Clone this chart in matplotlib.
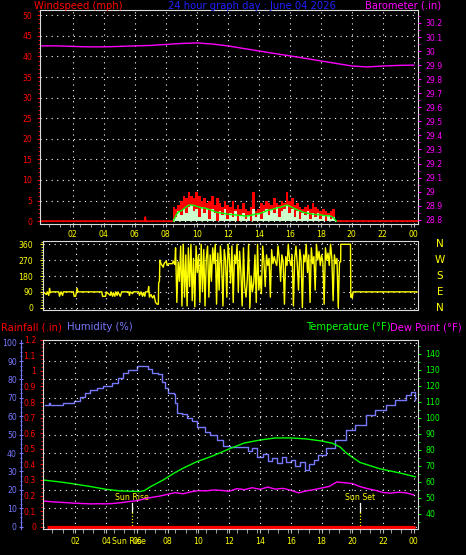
import numpy as np
import matplotlib
matplotlib.use('Agg')
import matplotlib.pyplot as plt
from matplotlib.ticker import MultipleLocator, FixedLocator, FuncFormatter
from matplotlib.transforms import blended_transform_factory

plt.rcParams['font.family'] = ['DejaVu Sans']

# ---------------------------------------------------------------- data
title = '24 hour graph day : June 04 2026'
hour_ticks = [2, 4, 6, 8, 10, 12, 14, 16, 18, 20, 22, 24]
hour_labels = ['02', '04', '06', '08', '10', '12', '14', '16', '18', '20', '22', '00']

# wind (mph), 10-minute values starting 08:30
wind_start = 8.5
wind_gust = [3.5, 3, 4, 5, 6, 5.5, 7, 6, 5.5, 7, 6, 5, 5.5, 4.5, 5, 6, 4, 5.5, 4.5, 3.5,
             5, 4, 3.5, 5, 3, 4, 3, 4.5, 3, 2.5, 3.5, 7, 2.5, 3, 4.5, 4, 5, 4.5, 4, 5.5,
             4.5, 4, 5, 4.5, 7, 5, 5.5, 4, 4.5, 3.5, 3, 3.5, 4, 3, 4.5, 3.5, 3, 2.5, 3, 2.5,
             2, 2.5, 3, 0]
wind_speed = [0.5, 1, 2.5, 1.5, 3, 2, 3.5, 4, 2.5, 3, 1, 3.5, 2, 3, 0.5, 3, 2, 0, 2.5, 1.5,
              3, 0.5, 2, 1, 2.5, 0, 1.5, 2, 0.5, 1.5, 0, 3, 1, 2, 0.5, 2.5, 3, 1.5, 3, 2,
              3.5, 1, 2.5, 3, 4, 2, 3, 1, 2.5, 0.5, 2, 1.5, 2.5, 0.5, 2, 1, 2, 0.5, 1.5, 0,
              1.5, 0.5, 1, 0]
wind_avg = [0, 1.5, 2.3, 2.5, 3, 3.5, 3.9, 3.9, 3.8, 3.6, 3.4, 3.2, 3.2, 3, 2.8, 2.6, 2.3, 2.1, 2, 1.9,
            1.8, 1.7, 1.6, 1.6, 1.5, 1.4, 1.4, 1.3, 1.2, 1.3, 1.4, 1.6, 1.7, 1.8, 2, 2.2, 2.5, 2.7, 2.8, 3,
            3.2, 3.3, 3.5, 3.7, 3.9, 3.6, 3.3, 3, 2.7, 2.5, 2.2, 2, 1.9, 1.8, 1.7, 1.6, 1.6, 1.5, 1.4, 1.3,
            1.3, 1.2, 0.8, 0]
calm_gust_t = [-0.1, 6.66, 6.68, 6.72, 8.49]
calm_gust_v = [0, 0, 1.0, 0, 0]
late_gust_t = [19.05, 24.24]
late_gust_v = [0, 0]

# barometer (in), hourly
baro_t = list(range(25))
baro_v = [30.037, 30.037, 30.033, 30.030, 30.030, 30.033, 30.037, 30.040, 30.047, 30.054,
          30.058, 30.050, 30.037, 30.019, 30.001, 29.983, 29.966, 29.948, 29.930, 29.912,
          29.894, 29.887, 29.894, 29.898, 29.900]

# wind direction (deg)
dir_early_t = [-0.05, 0.1, 0.15, 0.25, 0.3, 0.35, 0.45,
               0.9, 0.95, 1.05, 1.15, 1.2,
               1.85, 1.9, 2.0, 2.05, 2.1, 2.15,
               3.7, 3.75, 3.95, 4.0,
               4.25, 4.3, 4.4, 4.45, 4.55, 4.6, 4.7, 4.75, 4.9, 5.0,
               5.45, 5.5, 5.55, 5.7, 5.75,
               6.1, 6.15, 6.25, 6.35, 6.4, 6.5, 6.55, 6.7, 6.75,
               6.8, 6.9, 7.0, 7.1, 7.2, 7.3, 7.38, 7.4, 7.45, 7.48,
               7.55, 7.7, 7.75, 7.9, 7.95, 8.05, 8.3, 8.35, 8.45]
dir_early_v = [85, 75, 90, 70, 110, 85, 90,
               90, 65, 90, 70, 90,
               90, 65, 65, 90, 110, 90,
               90, 65, 65, 90,
               70, 90, 65, 85, 65, 90, 70, 90, 65, 90,
               90, 70, 90, 80, 90,
               90, 70, 90, 65, 85, 65, 90, 90, 120,
               60, 75, 55, 70, 30, 20, 20, 140, 150, 270,
               250, 230, 250, 265, 240, 250, 250, 265, 245]
dir_busy_start = 8.5   # 5-minute values
dir_busy = [340, 30, 260, 150, 350, 10,
            360, 60, 300, 10, 340, 120, 360, 40, 280, 5, 350, 200,
            300, 30, 360, 90, 330, 10, 280, 350, 60, 300, 150, 340,
            250, 360, 20, 310, 100, 350, 240, 10, 330, 270, 60, 360,
            280, 140, 350, 30, 300, 250, 360, 90, 320, 200, 10, 340,
            120, 60, 160, 360, 0, 180, 90, 140, 300, 30, 360, 100,
            180, 80, 350, 260, 120, 300, 240, 280, 60, 330, 250, 290,
            260, 240, 350, 280, 150, 300, 260, 20, 290, 240, 360, 270,
            240, 300, 10, 280, 350, 250, 100, 330, 270, 0, 300, 260,
            360, 200, 300, 30, 340, 250, 290, 100, 360, 270, 320, 240,
            300, 260, 20, 340, 270, 310, 240, 360, 280, 40, 300, 250,
            280, 0, 260]
dir_late_t = [19.24, 19.25, 19.88, 19.9, 19.95, 20.0, 20.05, 24.2]
dir_late_v = [260, 360, 360, 60, 75, 55, 90, 90]
compass_labels = ['N', 'W', 'S', 'E', 'N']
compass_deg = [360, 270, 180, 90, 0]

# humidity (%)
hum_t = [0.0, 0.3, 0.35, 0.5, 1.2, 1.9, 2.3, 2.6, 2.95, 3.4, 3.8, 4.4, 4.8, 5.1, 5.45, 6.0,
         6.3, 6.75, 7.0, 7.4, 7.6, 7.8, 8.0, 8.4, 8.5, 8.6, 8.9, 9.25, 9.55, 9.9, 10.4, 10.77,
         11.2, 11.6, 12.07, 12.7, 13.2, 13.5, 13.8, 14.2, 14.5, 14.8, 15.1, 15.4, 15.7, 16.0,
         16.3, 16.6, 16.9, 17.2, 17.5, 17.8, 18.3, 18.9, 19.6, 20.2, 20.9, 21.5, 22.2, 22.8,
         23.5, 23.8, 24.1]
hum_v = [66.0, 67.0, 66.2, 66.2, 67.2, 68.4, 70.4, 72.6, 74.0, 75.3, 76.5, 78.3, 81.0, 83.7,
         85.1, 87.3, 87.3, 85.9, 83.7, 82.8, 78.8, 75.3, 72.6, 72.2, 67.2, 61.7, 61.4, 59.0,
         57.2, 54.1, 51.7, 49.9, 47.2, 43.9, 43.5, 43.3, 41.0, 43.0, 38.0, 39.5, 35.5, 37.5,
         34.5, 38.0, 35.0, 36.5, 33.0, 35.0, 31.0, 34.0, 36.0, 39.0, 42.8, 47.0, 52.5, 55.3,
         60.7, 63.4, 66.1, 68.9, 71.6, 73.2, 68.9]

# temperature (F)
temp_t = [0.0, 1.0, 1.9, 3.0, 4.0, 4.9, 6.2, 6.5, 6.9, 7.7, 8.4, 9.0, 9.9, 10.8, 11.6, 12.1,
          13.0, 14.0, 15.0, 16.0, 17.0, 18.0, 18.7, 19.2, 19.6, 20.5, 21.8, 23.1, 24.1]
temp_v = [60.9, 59.8, 58.6, 56.9, 55.2, 54.2, 53.8, 54.5, 56.9, 61.0, 65.2, 68.4, 72.5, 75.6,
          78.8, 80.9, 84.2, 86.0, 87.3, 87.3, 86.7, 85.4, 84.0, 81.7, 78.0, 72.0, 68.0, 65.4, 63.0]

# dew point (F), half-hourly
dew_t = [i * 0.5 for i in range(49)]
dew_v = [47.8, 47.4, 47.1, 46.8, 46.5, 46.3, 46.1, 46.2, 46.1, 46.4, 46.9, 47.6, 48.1, 49.3,
         50.2, 51.0, 52.1, 53.1, 52.4, 53.6, 54.4, 54.2, 54.8, 54.5, 54.0, 55.6, 55.0, 56.2,
         55.2, 56.6, 55.3, 55.8, 54.6, 53.0, 54.2, 55.0, 56.0, 57.0, 59.8, 59.3, 58.8, 56.9,
         55.6, 54.6, 53.2, 52.8, 53.4, 53.0, 51.7]

# rainfall (in)
rain_t = [0.15, 24.05]
rain_v = [0.0, 0.0]

sunrise_h = 5.67
sunset_h = 20.49

# ---------------------------------------------------------------- styling
W, H = 466, 555
BORDER = '#dcdcdc'
HUMC = '#7878ff'
YEL = '#ffff00'
GRID = dict(color='white', linestyle=(0, (1, 4)), linewidth=0.8)
TS = 5.6


def rect(l, t, r, b):
    return [l / W, (H - b) / H, (r - l) / W, (b - t) / H]


def fmt(v, p):
    s = f'{v:.1f}'
    return s[:-2] if s.endswith('.0') else s


fig = plt.figure(figsize=(W / 100, H / 100), dpi=100, facecolor='black')
minor_x = FixedLocator(list(np.arange(0.5, 24.3, 2 / 3)))

# ---------------- top panel: wind + barometer
ax_w = fig.add_axes(rect(40, 10.3, 417.5, 224))
ax_w.set_facecolor('black')
ax_w.set_xlim(-0.11, 24.24)
ax_w.set_ylim(-0.7, 51.2)
wt = wind_start + np.arange(len(wind_gust)) / 6
ax_w.fill_between(wt, 0, wind_gust, step='mid', color='#ff0000', lw=0, zorder=2)
ax_w.fill_between(wt, 0, wind_speed, step='mid', color='#ccffcc', lw=0, zorder=3)
ax_w.plot(wt, wind_avg, color='#00ff00', lw=1.0, zorder=4)
ax_w.plot(calm_gust_t, calm_gust_v, color='#ff0000', lw=1.2, zorder=2)
ax_w.plot(late_gust_t, late_gust_v, color='#ff0000', lw=1.2, zorder=2)
ax_w.set_yticks(range(0, 51, 5))
ax_w.yaxis.set_minor_locator(MultipleLocator(1))
ax_w.tick_params(axis='y', which='major', colors='red', labelsize=TS, length=2.5, pad=3)
ax_w.tick_params(axis='y', which='minor', colors='red', length=1.5)
ax_w.set_xticks(hour_ticks)
ax_w.set_xticklabels(hour_labels)
ax_w.xaxis.set_minor_locator(minor_x)
ax_w.tick_params(axis='x', which='both', colors='#bbbbbb', labelcolor=YEL, labelsize=TS,
                 length=2, pad=2)
ax_w.grid(True, which='major', **GRID)
for s in ax_w.spines.values():
    s.set_color(BORDER)

ax_b = ax_w.twinx()
ax_b.set_ylim(28.77, 30.29)
ax_b.plot(baro_t, baro_v, color='#ff00ff', lw=1.0)
ax_b.set_yticks(np.round(np.arange(28.8, 30.25, 0.1), 1))
ax_b.yaxis.set_major_formatter(FuncFormatter(fmt))
ax_b.yaxis.set_minor_locator(MultipleLocator(0.05))
ax_b.tick_params(axis='y', which='major', colors='#ff00ff', labelsize=TS, length=2.2, pad=3.5)
ax_b.tick_params(axis='y', which='minor', colors='#ff00ff', length=1.5)
for s in ax_b.spines.values():
    s.set_visible(False)

# ---------------- middle panel: wind direction
ax_d = fig.add_axes(rect(43.3, 241.3, 417.5, 310))
ax_d.set_facecolor('black')
ax_d.set_xlim(-0.105, 24.24)
ax_d.set_ylim(-13, 377)
bt = dir_busy_start + np.arange(len(dir_busy)) / 12
d_t = list(dir_early_t) + list(bt) + list(dir_late_t)
d_v = list(dir_early_v) + list(dir_busy) + list(dir_late_v)
ax_d.plot(d_t, d_v, color=YEL, lw=1.0)
ax_d.set_yticks([0, 90, 180, 270, 360])
ax_d.yaxis.set_minor_locator(MultipleLocator(15))
ax_d.tick_params(axis='y', which='major', colors=YEL, labelsize=TS, length=2.5, pad=5)
ax_d.tick_params(axis='y', which='minor', colors=YEL, length=1.5)
ax_d.set_xticks(hour_ticks)
ax_d.tick_params(axis='x', labelbottom=False, length=0)
ax_d.grid(True, which='major', **GRID)
for s in ax_d.spines.values():
    s.set_color(BORDER)
ctr = blended_transform_factory(fig.transFigure, ax_d.transData)
for lab, deg in zip(compass_labels, compass_deg):
    ax_d.text(440 / W, deg, lab, transform=ctr, color=YEL, fontsize=7.5,
              ha='center', va='center', clip_on=False)

# ---------------- bottom panel: rain, humidity, temperature, dew point
ax_r = fig.add_axes(rect(43, 339.7, 417.5, 529))
ax_h = ax_r.twinx()
ax_t = ax_r.twinx()
ax_h.set_zorder(1)
ax_t.set_zorder(2)
ax_r.set_zorder(3)
for a in (ax_r, ax_h, ax_t):
    a.patch.set_visible(False)
    a.set_xlim(-0.105, 24.24)

ax_r.set_ylim(-0.015, 1.2)
ax_r.plot(rain_t, rain_v, color='#ff0000', lw=2.3, solid_capstyle='butt')
ax_r.set_yticks(np.round(np.arange(0, 1.25, 0.1), 1))
ax_r.yaxis.set_major_formatter(FuncFormatter(fmt))
ax_r.yaxis.set_minor_locator(MultipleLocator(0.025))
ax_r.tick_params(axis='y', which='major', colors='red', labelsize=TS, length=2, pad=3)
ax_r.tick_params(axis='y', which='minor', colors='red', length=1.2)
ax_r.set_xticks(hour_ticks)
ax_r.set_xticklabels(hour_labels)
ax_r.xaxis.set_minor_locator(minor_x)
ax_r.tick_params(axis='x', which='both', colors='#bbbbbb', labelcolor=YEL, labelsize=TS,
                 length=3, pad=3)
ax_r.grid(True, axis='x', which='major', **GRID)
for s in ax_r.spines.values():
    s.set_color(BORDER)

ax_h.set_ylim(-1.25, 101.6)
ax_h.plot(hum_t, hum_v, color=HUMC, lw=1.0, drawstyle='steps-post')
for s in ax_h.spines.values():
    s.set_visible(False)
ax_h.yaxis.tick_left()
ax_h.spines['left'].set_visible(True)
ax_h.spines['left'].set_position(('outward', 15.6))
ax_h.spines['left'].set_color(HUMC)
ax_h.set_yticks(range(0, 101, 10))
ax_h.yaxis.set_minor_locator(MultipleLocator(2.5))
ax_h.tick_params(axis='y', which='major', colors=HUMC, labelsize=TS, length=3.5,
                 direction='inout', pad=1.5)
ax_h.tick_params(axis='y', which='minor', colors=HUMC, length=2, direction='inout')
ax_h.grid(True, axis='y', which='major', **GRID)

ax_t.set_ylim(30.4, 148.7)
ax_t.plot(temp_t, temp_v, color='#00ff00', lw=1.0)
ax_t.plot(dew_t, dew_v, color='#ff00ff', lw=1.0)
for s in ax_t.spines.values():
    s.set_visible(False)
ax_t.set_yticks(range(40, 141, 10))
ax_t.yaxis.set_minor_locator(MultipleLocator(5))
ax_t.tick_params(axis='y', which='major', colors='#00ff00', labelsize=TS, length=2.2, pad=3.5)
ax_t.tick_params(axis='y', which='minor', colors='#00ff00', length=1.5)

# sunrise / sunset markers
for h_, lab in ((sunrise_h, 'Sun Rise'), (sunset_h, 'Sun Set')):
    ax_h.plot([h_, h_], [12.9, 8.0], color='white', lw=0.9)
    ax_h.plot([h_, h_], [8.0, 0.0], color=YEL, lw=0.9, linestyle=(0, (1, 1.5)))
    ax_h.text(h_, 16.1, lab, color=YEL, fontsize=TS, ha='center', va='center')
btr = blended_transform_factory(ax_r.transData, fig.transFigure)
ax_r.text(sunrise_h - 0.2, 1 - 541 / H, 'Sun Rise', transform=btr, color=YEL,
          fontsize=TS, ha='center', va='center', clip_on=False)

# ---------------- header texts
def ftext(x, y, s, c, ha='left', size=7.2):
    fig.text(x / W, 1 - y / H, s, color=c, fontsize=size, ha=ha, va='center')


ftext(34, 6, 'Windspeed (mph)', '#ff0000')
ftext(251.5, 6, title, '#2020ff', ha='center')
ftext(441, 6, 'Barometer (.in)', '#ff00ff', ha='right')
ftext(1, 327, 'Rainfall (.in)', '#ff0000')
ftext(67, 327, 'Humidity (%)', HUMC)
ftext(391, 327, 'Temperature (°F)', '#00ff00', ha='right')
ftext(462, 327, 'Dew Point (°F)', '#ff00ff', ha='right')

fig.savefig('out.png', dpi=100, facecolor='black')
